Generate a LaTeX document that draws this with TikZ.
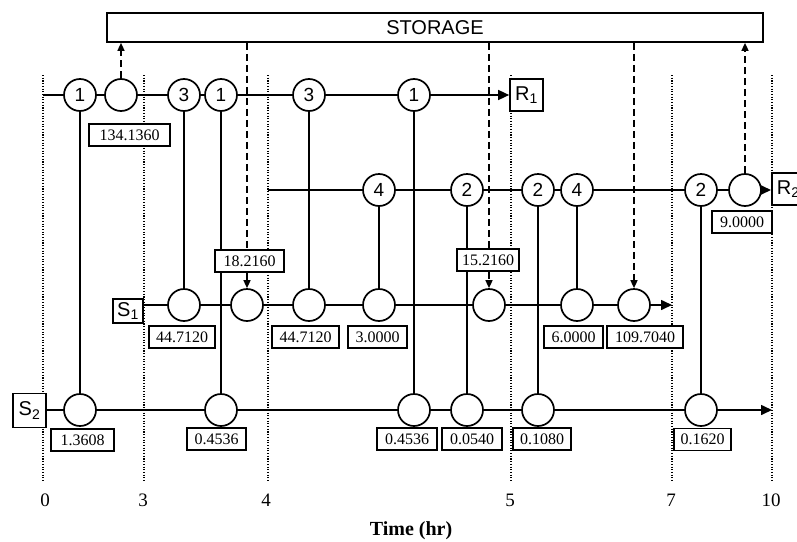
\documentclass[tikz,border=0pt]{standalone}
\usepackage{fontspec}
\setmainfont{Liberation Serif}
\newfontfamily\arialf{Liberation Sans}
\usetikzlibrary{arrows.meta,backgrounds}
\tikzset{
  proc/.style={circle,draw,line width=1.7pt,fill=white,minimum size=32pt,inner sep=0pt,font=\arialf\fontsize{19}{19}\selectfont},
  val/.style={draw,line width=1.7pt,fill=white,minimum height=22pt,inner sep=0pt,font=\fontsize{16}{16}\selectfont},
  term/.style={draw,line width=1.7pt,fill=white,inner sep=0pt,font=\arialf\fontsize{20}{20}\selectfont},
  tl/.style={dash pattern=on 1.1pt off 1.6pt,line width=1.3pt},
  flow/.style={line width=1.6pt},
  flowarr/.style={flow,-{Triangle[length=11pt,width=10pt]}},
  st/.style={line width=1.5pt,dash pattern=on 7pt off 4pt},
  starr/.style={st,-{Triangle[length=8pt,width=7pt]}},
  ax/.style={font=\fontsize{19}{19}\selectfont}
}
\begin{document}
\begin{tikzpicture}[x=1pt,y=-1pt]
\clip (0,0) rectangle (797,541);
\useasboundingbox (0,0) rectangle (797,541);
% storage
\node[draw,line width=1.7pt,minimum width=656pt,minimum height=29pt,inner sep=0pt,font=\arialf\fontsize{20}{20}\selectfont] (stor) at (435,27.5) {STORAGE};
% terminals
\node[term,minimum width=33pt,minimum height=32pt] (r1box) at (526.5,95) {R\textsubscript{1}};
\node[term,minimum width=33pt,minimum height=32pt,anchor=west] (r2box) at (771,189) {R\textsubscript{2}};
\node[term,minimum width=30pt,minimum height=24pt] (s1box) at (128,311) {S\textsubscript{1}};
\node[term,minimum width=33pt,minimum height=34pt] (s2box) at (29.5,410.5) {S\textsubscript{2}};
% R1 row
\node[proc] (r1a) at (80,95) {1};
\node[proc] (r1b) at (121,95) {};
\node[proc] (r1c) at (184,95) {3};
\node[proc] (r1d) at (221,95) {1};
\node[proc] (r1e) at (309,95) {3};
\node[proc] (r1f) at (414,95) {1};
% R2 row
\node[proc] (r2a) at (379,190) {4};
\node[proc] (r2b) at (467,190) {2};
\node[proc] (r2c) at (538,190) {2};
\node[proc] (r2d) at (577,190) {4};
\node[proc] (r2e) at (701,190) {2};
\node[proc] (r2f) at (745,190) {};
% S1 row
\node[proc] (s1a) at (184,305) {};
\node[proc] (s1b) at (247,305) {};
\node[proc] (s1c) at (309,305) {};
\node[proc] (s1d) at (379,305) {};
\node[proc] (s1e) at (489,305) {};
\node[proc] (s1f) at (577,305) {};
\node[proc] (s1g) at (634,305) {};
% S2 row
\node[proc] (s2a) at (80,410) {};
\node[proc] (s2b) at (221,410) {};
\node[proc] (s2c) at (414,410) {};
\node[proc] (s2d) at (467,410) {};
\node[proc] (s2e) at (538,410) {};
\node[proc] (s2f) at (701,410) {};
% value boxes
\node[val,minimum width=81pt] (v1) at (129.5,135) {134.1360};
\node[val,minimum width=66pt] (v2) at (182,337) {44.7120};
\node[val,minimum width=69pt] (v3) at (249.5,261) {18.2160};
\node[val,minimum width=67pt] (v4) at (305.5,337) {44.7120};
\node[val,minimum width=59pt] (v5) at (377.5,337) {3.0000};
\node[val,minimum width=62pt] (v6) at (488,260) {15.2160};
\node[val,minimum width=59pt] (v7) at (573.5,337) {6.0000};
\node[val,minimum width=76pt] (v8) at (645,337) {109.7040};
\node[val,minimum width=60pt] (v9) at (742,222) {9.0000};
\node[val,minimum width=63pt] (v10) at (82.5,440) {1.3608};
\node[val,minimum width=59pt] (v11) at (216.5,439) {0.4536};
\node[val,minimum width=60pt] (v12) at (407,439) {0.4536};
\node[val,minimum width=60pt] (v13) at (472,439) {0.0540};
\node[val,minimum width=58pt] (v14) at (542,439) {0.1080};
\node[val,minimum width=57pt] (v15) at (702.5,439.5) {0.1620};
% axis labels
\node[ax] (t0) at (45,500) {0};
\node[ax] (t3) at (143,500) {3};
\node[ax] (t4) at (266,500) {4};
\node[ax] (t5) at (510,500) {5};
\node[ax] (t7) at (671,500) {7};
\node[ax] (t10) at (771,500) {10};
\node[font=\bfseries\fontsize{20}{20}\selectfont] (tl) at (411,531) {Time (hr)};
% free ends
\coordinate (r1s) at (43,95);
\coordinate (r2s) at (268,190);
\coordinate (s1end) at (672,305);
\coordinate (s2end) at (772,410);
\begin{pgfonlayer}{background}
  \foreach \x in {43,144,268,511,672,772} \draw[tl] (\x,75) -- (\x,482);
  % horizontal flows
  \draw[flowarr] (r1s) -- (r1box.west);
  \draw[flowarr] (r2s) -- (r2box.west |- r2s);
  \draw[flowarr] (s1box.east |- s1a) -- (s1end);
  \draw[flowarr] (s2box.east |- s2a) -- (s2end);
  % vertical transfers
  \draw[flow] (r1a) -- (s2a);
  \draw[flow] (r1c) -- (s1a);
  \draw[flow] (r1d) -- (s2b);
  \draw[flow] (r1e) -- (s1c);
  \draw[flow] (r1f) -- (s2c);
  \draw[flow] (r2a) -- (s1d);
  \draw[flow] (r2b) -- (s2d);
  \draw[flow] (r2c) -- (s2e);
  \draw[flow] (r2d) -- (s1f);
  \draw[flow] (r2e) -- (s2f);
  % storage links
  \draw[starr] (r1b) -- (stor.south -| r1b);
  \draw[starr] (r2f) -- (stor.south -| r2f);
  \draw[st] (stor.south -| s1b) -- (s1b |- v3.north);
  \draw[starr] (s1b |- v3.south) -- (s1b);
  \draw[st] (stor.south -| s1e) -- (s1e |- v6.north);
  \draw[starr] (s1e |- v6.south) -- (s1e);
  \draw[starr] (stor.south -| s1g) -- (s1g);
\end{pgfonlayer}
\end{tikzpicture}
\end{document}
